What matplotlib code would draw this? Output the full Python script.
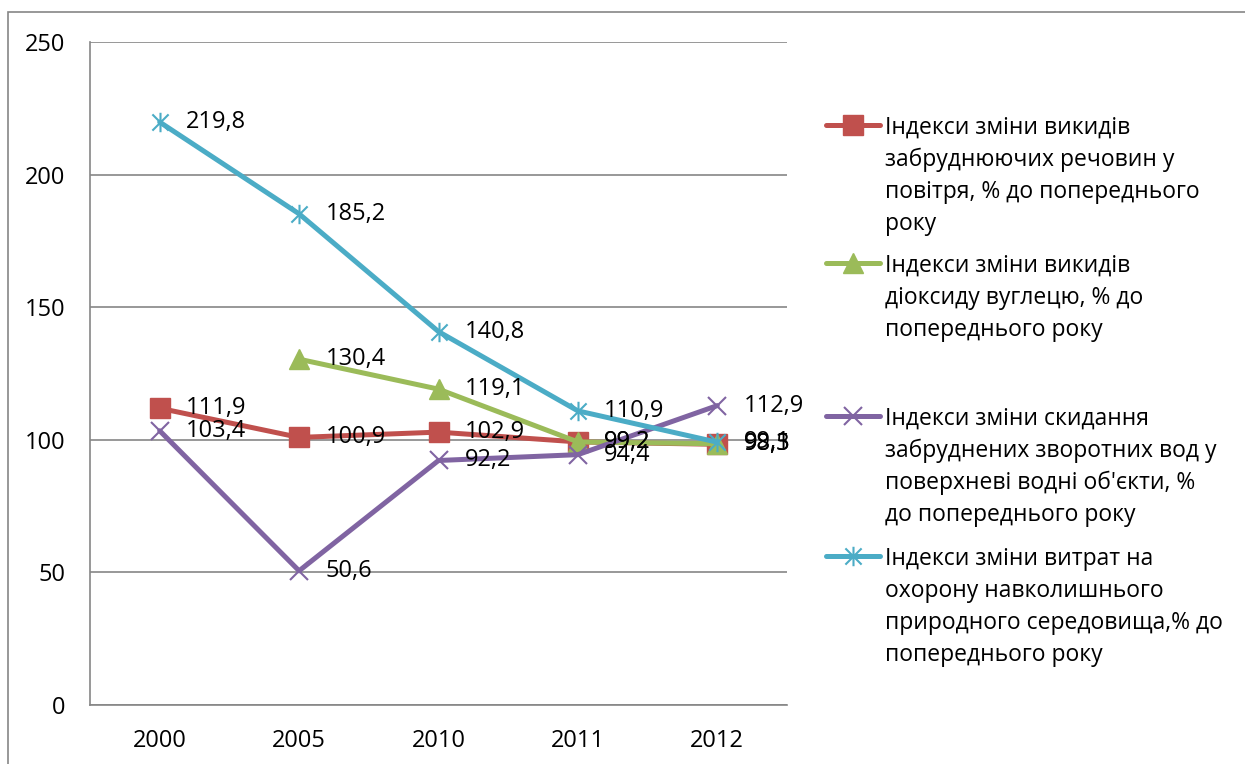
import matplotlib.pyplot as plt
import matplotlib.patches as mpatches
from matplotlib.lines import Line2D
from matplotlib.path import Path
import numpy as np

plt.rcParams['font.family'] = ['Open Sans', 'DejaVu Sans']

# data
years = ['2000', '2005', '2010', '2011', '2012']
air = [111.9, 100.9, 102.9, 99.2, 98.3]
co2 = [np.nan, 130.4, 119.1, 99.2, 98.5]
water = [103.4, 50.6, 92.2, 94.4, 112.9]
costs = [219.8, 185.2, 140.8, 110.9, 99.1]

legend_lines = [
    ['Індекси зміни викидів', 'забруднюючих речовин у', 'повітря, % до попереднього', 'року'],
    ['Індекси зміни викидів', 'діоксиду вуглецю, % до', 'попереднього року'],
    ['Індекси зміни скидання', 'забруднених зворотних вод у', 'поверхневі водні об\'єкти, %', 'до попереднього року'],
    ['Індекси зміни витрат на', 'охорону навколишнього', 'природного середовища,% до', 'попереднього року'],
]

# Excel-style star: X plus a vertical bar
star = Path([(-1, -1), (1, 1), (-1, 1), (1, -1), (0, -1.2), (0, 1.2)],
            [Path.MOVETO, Path.LINETO, Path.MOVETO, Path.LINETO, Path.MOVETO, Path.LINETO])

colors = ['#C0504D', '#9BBB59', '#8064A2', '#4BACC6']
markers = ['s', '^', 'x', star]
msizes = [14, 14, 13, 14]
series = [air, co2, water, costs]

W, H = 1245, 764
fig = plt.figure(figsize=(W / 100, H / 100), dpi=100)
ax = fig.add_axes([90 / W, 59 / H, 697 / W, 663 / H])

# outer chart border (only top/left visible)
fig.patches.append(mpatches.Rectangle((8 / W, -0.1), 1.2, (H - 12) / H + 0.1,
                                      transform=fig.transFigure, fill=False,
                                      edgecolor='#868686', linewidth=1.2))


def mew_for(m):
    return 1.5 if (m == 'x' or isinstance(m, Path)) else 1


x = np.arange(len(years))
for vals, c, m, ms in zip(series, colors, markers, msizes):
    ax.plot(x, vals, color=c, linewidth=3.6, marker=m, markersize=ms,
            markeredgecolor=c, markerfacecolor=c, markeredgewidth=mew_for(m),
            solid_joinstyle='round', solid_capstyle='round')

# data labels
for vals in series:
    for xi, v in zip(x, vals):
        if np.isnan(v):
            continue
        ax.annotate(f'{v:.1f}'.replace('.', ','), (xi, v), xytext=(19, 0),
                    textcoords='offset points', ha='left', va='center',
                    fontsize=17, color='black')

ax.set_xlim(-0.5, len(years) - 0.5)
ax.set_ylim(0, 250)
ax.set_yticks(np.arange(0, 251, 50))
ax.set_xticks(x)
ax.set_xticklabels(years)
ax.tick_params(axis='both', length=0, labelsize=17, colors='black')
ax.tick_params(axis='y', pad=18)
ax.tick_params(axis='x', pad=17)
ax.grid(axis='y', color='#868686', linewidth=1.2)
ax.set_axisbelow(True)
for s in ['top', 'right']:
    ax.spines[s].set_visible(False)
for s in ['left', 'bottom']:
    ax.spines[s].set_color('#868686')
    ax.spines[s].set_linewidth(1.2)

# legend drawn by hand so the key sits next to the first line
first_baselines = [134, 272, 425, 565]
line_step = 32
for lines, c, m, ms, yb in zip(legend_lines, colors, markers, msizes, first_baselines):
    ymid = H - (yb - 9)
    fig.add_artist(Line2D([826 / W, 880 / W], [ymid / H, ymid / H], color=c,
                          linewidth=3.6, solid_capstyle='round'))
    fig.add_artist(Line2D([853 / W], [ymid / H], marker=m, markersize=ms,
                          color=c, markeredgecolor=c, markeredgewidth=mew_for(m)))
    for i, t in enumerate(lines):
        fig.text(885 / W, (H - (yb + i * line_step)) / H, t, fontsize=16.5,
                 ha='left', va='baseline', color='black')

fig.savefig('out.png', dpi=100)
